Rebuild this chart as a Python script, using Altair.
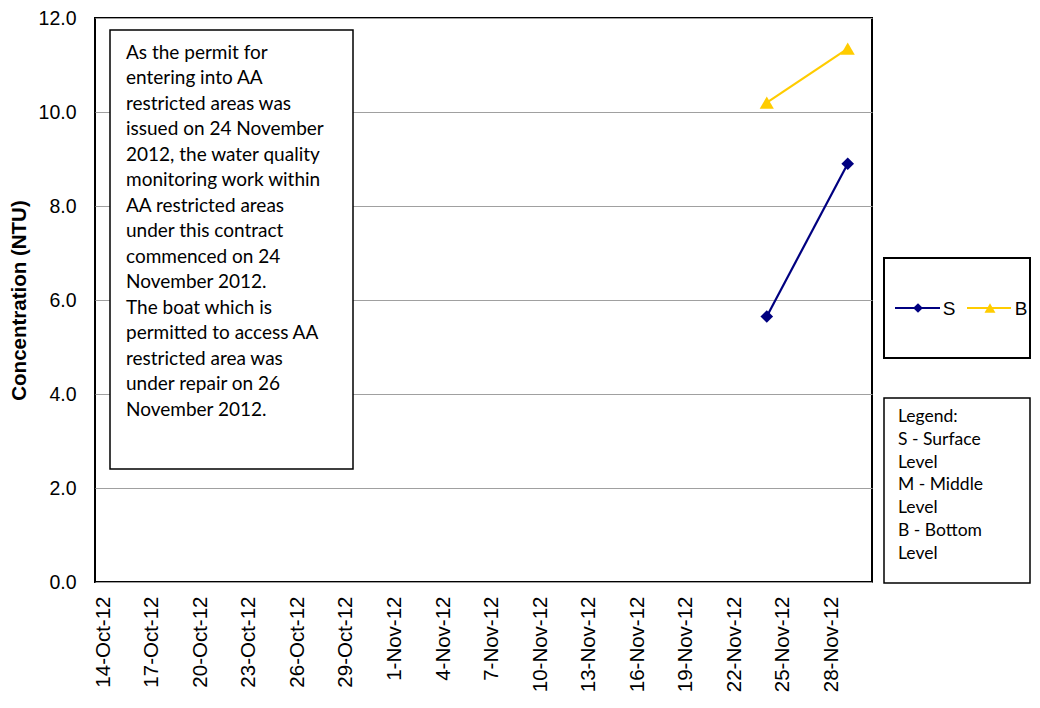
import altair as alt
import pandas as pd

# ---- data ----
dates = ["2012-11-24", "2012-11-29"]
s_values = [5.65, 8.9]
b_values = [10.2, 11.35]
series_names = ["S", "B"]
series_colors = ["#000080", "#FFCC00"]
series_shapes = ["diamond", "triangle-up"]
tick_days = [(10, 14), (10, 17), (10, 20), (10, 23), (10, 26), (10, 29),
             (11, 1), (11, 4), (11, 7), (11, 10), (11, 13), (11, 16),
             (11, 19), (11, 22), (11, 25), (11, 28)]
y_ticks = [0, 2, 4, 6, 8, 10, 12]
note_lines = [
    "As the permit for",
    "entering into AA",
    "restricted areas was",
    "issued on 24 November",
    "2012, the water quality",
    "monitoring work within",
    "AA restricted areas",
    "under this contract",
    "commenced on 24",
    "November 2012.",
    "The boat which is",
    "permitted to access AA",
    "restricted area was",
    "under repair on 26",
    "November 2012.",
]
legend_note_lines = ["Legend:", "S - Surface", "Level", "M - Middle", "Level",
                     "B - Bottom", "Level"]

df = pd.DataFrame({
    "date": dates + dates,
    "value": s_values + b_values,
    "series": ["S"] * len(dates) + ["B"] * len(dates),
})
one = pd.DataFrame({"k": [0]})

AX_FONT = "Liberation Sans"
NOTE_FONT = "Lato"

x_enc = alt.X(
    "date:T",
    scale=alt.Scale(
        type="utc",
        domain=[alt.DateTime(year=2012, month=10, date=13, hours=12, utc=True),
                alt.DateTime(year=2012, month=11, date=30, hours=12, utc=True)],
    ),
    axis=alt.Axis(
        values=[alt.DateTime(year=2012, month=m, date=d, utc=True) for m, d in tick_days],
        format="%-d-%b-%y",
        labelAngle=-90,
        labelFont=AX_FONT,
        labelFontSize=20.5,
        labelColor="black",
        labelPadding=14,
        ticks=False,
        domain=False,
        grid=False,
        title=None,
        labelOverlap=False,
    ),
)
y_enc = alt.Y(
    "value:Q",
    scale=alt.Scale(domain=[0, 12], nice=False),
    axis=alt.Axis(
        values=y_ticks,
        format=".1f",
        labelFont=AX_FONT,
        labelFontSize=19.5,
        labelColor="black",
        labelPadding=19,
        ticks=False,
        domain=False,
        grid=True,
        gridColor="#a0a0a0",
        gridWidth=1,
        title="Concentration (NTU)",
        titleFont=AX_FONT,
        titleFontSize=20.5,
        titleFontWeight="bold",
        titleColor="black",
        titlePadding=9,
    ),
)
color_enc = alt.Color("series:N", scale=alt.Scale(domain=series_names, range=series_colors), legend=None)
shape_enc = alt.Shape("series:N", scale=alt.Scale(domain=series_names, range=series_shapes), legend=None)
size_enc = alt.Size("series:N", scale=alt.Scale(domain=series_names, range=[160, 200]), legend=None)

base = alt.Chart(df)
lines = base.mark_line(strokeWidth=2.2).encode(x=x_enc, y=y_enc, color=color_enc, detail="series:N")
points = base.mark_point(filled=True, opacity=1).encode(
    x="date:T", y="value:Q", color=color_enc, shape=shape_enc, size=size_enc)

# note box inside the plot
note_box = alt.Chart(one).mark_rect(fill="white", stroke="black", strokeWidth=1.5).encode(
    x=alt.value(15), x2=alt.value(258), y=alt.value(12), y2=alt.value(451))
note_text = alt.Chart(one).mark_text(
    text=note_lines, align="left", baseline="middle", font=NOTE_FONT, fontSize=19,
    lineHeight=25.5, color="black").encode(x=alt.value(31), y=alt.value(34.5))

# series legend box (outside the plot)
leg_box = alt.Chart(one).mark_rect(fill="white", stroke="black", strokeWidth=2).encode(
    x=alt.value(789), x2=alt.value(935), y=alt.value(240), y2=alt.value(340))
leg_s_line = alt.Chart(one).mark_rule(color=series_colors[0], strokeWidth=2).encode(
    x=alt.value(800), x2=alt.value(845), y=alt.value(290))
leg_b_line = alt.Chart(one).mark_rule(color=series_colors[1], strokeWidth=2).encode(
    x=alt.value(872), x2=alt.value(916), y=alt.value(290))
leg_s_pt = alt.Chart(one).mark_point(shape=series_shapes[0], filled=True, size=95, color=series_colors[0], opacity=1).encode(
    x=alt.value(823), y=alt.value(290))
leg_b_pt = alt.Chart(one).mark_point(shape=series_shapes[1], filled=True, size=120, color=series_colors[1], opacity=1).encode(
    x=alt.value(895), y=alt.value(290))
leg_s_txt = alt.Chart(one).mark_text(text=series_names[0], font=AX_FONT, fontSize=19, color="black").encode(
    x=alt.value(854), y=alt.value(291))
leg_b_txt = alt.Chart(one).mark_text(text=series_names[1], font=AX_FONT, fontSize=19, color="black").encode(
    x=alt.value(926), y=alt.value(291))

# explanation legend box
leg2_box = alt.Chart(one).mark_rect(fill="white", stroke="black", strokeWidth=1.5).encode(
    x=alt.value(789), x2=alt.value(935), y=alt.value(380), y2=alt.value(565))
leg2_text = alt.Chart(one).mark_text(
    text=legend_note_lines, align="left", baseline="middle", font=NOTE_FONT, fontSize=17.5,
    lineHeight=22.8, color="black").encode(x=alt.value(803), y=alt.value(399))

chart = alt.layer(
    lines, points, note_box, note_text,
    leg_box, leg_s_line, leg_b_line, leg_s_pt, leg_b_pt, leg_s_txt, leg_b_txt,
    leg2_box, leg2_text,
).properties(
    width=777, height=564,
    padding={"left": 87, "top": 10, "right": 159, "bottom": 110},
    autosize=alt.AutoSizeParams(type="none"),
    background="white",
).configure_view(stroke="black", strokeWidth=2)

chart.save("out.html", embed_options={"renderer": "svg", "actions": False})
